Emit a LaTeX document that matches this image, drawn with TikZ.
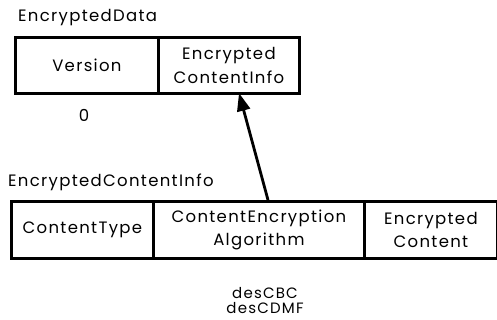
\documentclass[tikz,border=0pt]{standalone}
\usepackage{fontspec}
\setmainfont{Poppins}[LetterSpace=8]
\usetikzlibrary{arrows.meta}
\begin{document}
\begin{tikzpicture}[x=1pt,y=-1pt,
  cell/.style={draw,line width=2.8pt,inner sep=0pt,anchor=north west,align=center,font=\fontsize{16.5}{23.5}\selectfont},
  lbl/.style={inner sep=0pt,font=\fontsize{16.5}{16}\selectfont},
  arr/.style={line width=2.8pt,-{Triangle[length=18pt,width=13pt]}}]
\useasboundingbox (0,0) rectangle (497,320);
\node[cell,minimum width=143pt,minimum height=56pt] (ver) at (14,36) {Version};
\node[cell,minimum width=141pt,minimum height=56pt] (eci) at (157,36) {Encrypted\\ContentInfo};
\node[lbl,anchor=west] (t1) at (18,18) {EncryptedData};
\node[lbl] (zero) at (84,115) {0};
\node[lbl,anchor=west] (t2) at (8,182) {EncryptedContentInfo};
\node[cell,minimum width=142pt,minimum height=57pt] (ct) at (10,200) {ContentType};
\node[cell,minimum width=211pt,minimum height=57pt] (cea) at (152,200) {ContentEncryption\\Algorithm};
\node[cell,minimum width=133pt,minimum height=57pt] (ec) at (363,200) {Encrypted\\Content};
\node[lbl,align=center,font=\fontsize{15}{15}\selectfont] (algs) at (265,301) {desCBC\\desCDMF};
\coordinate (s) at (268,200);
\coordinate (e) at (239,93);
\draw[arr] (s) -- (e);
\end{tikzpicture}
\end{document}
